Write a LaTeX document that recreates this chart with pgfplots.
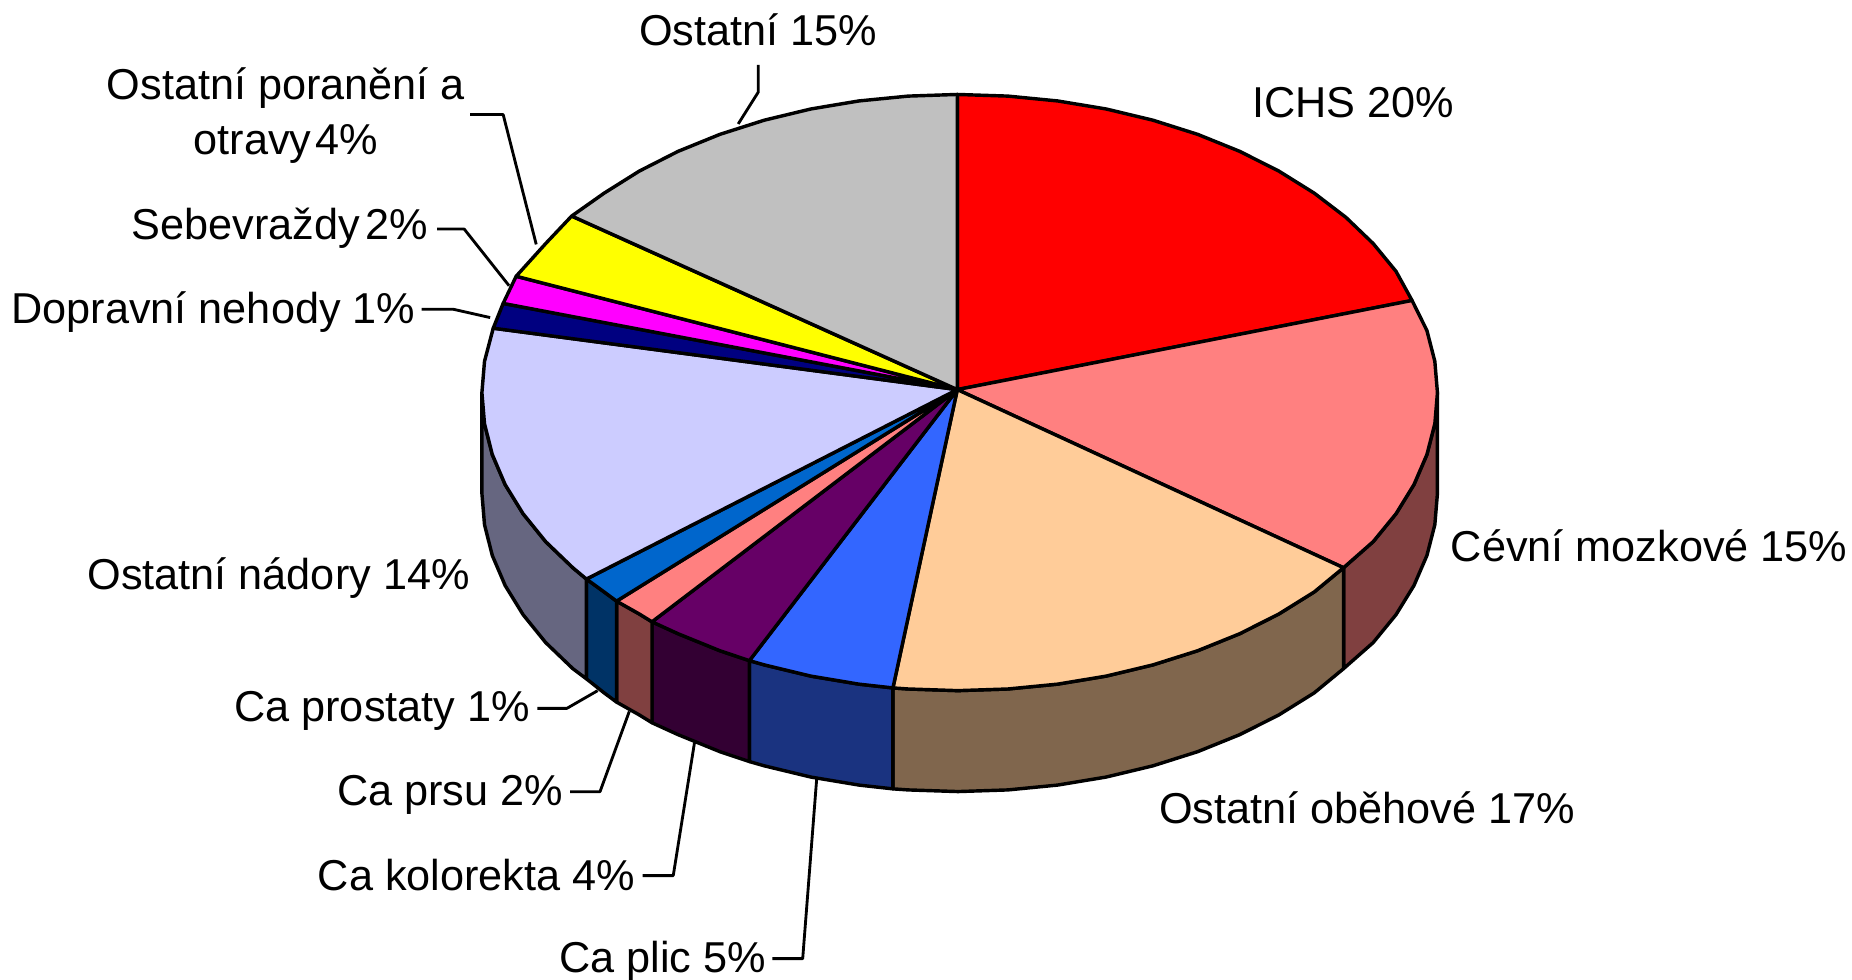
\documentclass[border=0pt]{standalone}
\usepackage{pgfplots}
\pgfplotsset{compat=1.18}
\usepackage{fontspec}
\setmainfont{Liberation Sans}
\definecolor{c1}{HTML}{FF0000}
\definecolor{c2}{HTML}{FF8080}
\definecolor{c3}{HTML}{FFCC99}
\definecolor{c4}{HTML}{3366FF}
\definecolor{c5}{HTML}{660066}
\definecolor{c6}{HTML}{FF8080}
\definecolor{c7}{HTML}{0066CC}
\definecolor{c8}{HTML}{CCCCFF}
\definecolor{c9}{HTML}{000080}
\definecolor{c10}{HTML}{FF00FF}
\definecolor{c11}{HTML}{FFFF00}
\definecolor{c12}{HTML}{C0C0C0}
\definecolor{w2}{HTML}{804040}
\definecolor{w3}{HTML}{80664D}
\definecolor{w4}{HTML}{1A3380}
\definecolor{w5}{HTML}{330033}
\definecolor{w6}{HTML}{804040}
\definecolor{w7}{HTML}{003366}
\definecolor{w8}{HTML}{666680}
\tikzset{lab/.style={font=\fontsize{18.3}{22}\selectfont, inner sep=0pt, text=black}}
\begin{document}
\begin{tikzpicture}
\path[use as bounding box] (0,0) rectangle (784pt,414.8pt);
\begin{axis}[
  at={(0,0)}, anchor=south west,
  hide axis, clip=false, scale only axis,
  width=784pt, height=414.8pt,
  xmin=0, xmax=1568, ymin=0, ymax=830, y dir=reverse,
  every axis plot/.append style={draw=black, line width=1.45pt, line join=round, mark=none},
]
% side walls
\addplot[fill=w2] coordinates {(1217,332.5)(1214.8,358.9)(1208.1,385)(1197.1,410.5)(1181.9,435.2)(1162.6,458.8)(1137.5,480.9)(1137.5,566.4)(1162.6,544.3)(1181.9,520.7)(1197.1,496)(1208.1,470.5)(1214.8,444.4)(1217,418)} -- cycle;
\addplot[fill=w3] coordinates {(1137.5,480.9)(1112.7,501.4)(1082.7,520.1)(1049.6,536.8)(1014,551.2)(976.1,563.2)(936.5,572.7)(895.4,579.5)(853.4,583.6)(811,585)(768.9,583.6)(756,582.7)(756,668.2)(768.9,669.1)(811,670.5)(853.4,669.1)(895.4,665)(936.5,658.2)(976.1,648.7)(1014,636.7)(1049.6,622.3)(1082.7,605.6)(1112.7,586.9)(1137.5,566.4)} -- cycle;
\addplot[fill=w4] coordinates {(756,582.7)(727.2,579.5)(686.5,572.7)(647.1,563.2)(634.5,559.6)(634.5,645.1)(647.1,648.7)(686.5,658.2)(727.2,665)(756,668.2)} -- cycle;
\addplot[fill=w5] coordinates {(634.5,559.6)(609.5,551.2)(574.1,536.8)(552,526.7)(552,612.2)(574.1,622.3)(609.5,636.7)(634.5,645.1)} -- cycle;
\addplot[fill=w6] coordinates {(552,526.7)(541.3,520.1)(522,509.2)(522,594.7)(541.3,605.6)(552,612.2)} -- cycle;
\addplot[fill=w7] coordinates {(522,509.2)(511.5,501.4)(496.5,490.5)(496.5,575)(511.5,586.9)(522,594.7)} -- cycle;
\addplot[fill=w8] coordinates {(496.5,490.5)(485,480.9)(462,458.8)(442.9,435.2)(427.7,410.5)(416.8,385)(410.2,358.9)(408,332.5)(408,418)(410.2,444.4)(416.8,470.5)(427.7,496)(442.9,520.7)(462,544.3)(485,566.4)(496.5,575)} -- cycle;
% top slices
\addplot[fill=c1] coordinates {(810.5,330)(810.5,80)(853.4,81.4)(895.4,85.5)(936.5,92.3)(976.1,101.8)(1014,113.8)(1049.6,128.2)(1082.7,144.9)(1112.7,163.6)(1139.5,184.1)(1162.6,206.3)(1181.9,229.8)(1195.5,254.5)} -- cycle;
\addplot[fill=c2] coordinates {(810.5,330)(1195.5,254.5)(1208.1,280)(1214.8,306.1)(1217,332.5)(1214.8,358.9)(1208.1,385)(1197.1,410.5)(1181.9,435.2)(1162.6,458.8)(1137.5,480.9)} -- cycle;
\addplot[fill=c3] coordinates {(810.5,330)(1137.5,480.9)(1112.7,501.4)(1082.7,520.1)(1049.6,536.8)(1014,551.2)(976.1,563.2)(936.5,572.7)(895.4,579.5)(853.4,583.6)(811,585)(768.9,583.6)(756,582.7)} -- cycle;
\addplot[fill=c4] coordinates {(810.5,330)(756,582.7)(727.2,579.5)(686.5,572.7)(647.1,563.2)(634.5,559.6)} -- cycle;
\addplot[fill=c5] coordinates {(810.5,330)(634.5,559.6)(609.5,551.2)(574.1,536.8)(552,526.7)} -- cycle;
\addplot[fill=c6] coordinates {(810.5,330)(552,526.7)(541.3,520.1)(522,509.2)} -- cycle;
\addplot[fill=c7] coordinates {(810.5,330)(522,509.2)(511.5,501.4)(496.5,490.5)} -- cycle;
\addplot[fill=c8] coordinates {(810.5,330)(496.5,490.5)(485,480.9)(462,458.8)(442.9,435.2)(427.7,410.5)(416.8,385)(410.2,358.9)(408,332.5)(410.2,306.1)(417.6,278)} -- cycle;
\addplot[fill=c9] coordinates {(810.5,330)(417.6,278)(426,257)} -- cycle;
\addplot[fill=c10] coordinates {(810.5,330)(426,257)(437,234)} -- cycle;
\addplot[fill=c11] coordinates {(810.5,330)(437,234)(462,206.3)(484,183)} -- cycle;
\addplot[fill=c12] coordinates {(810.5,330)(484,183)(511.5,163.6)(541.3,144.9)(574.1,128.2)(609.5,113.8)(647.1,101.8)(686.5,92.3)(727.2,85.5)(768.9,81.4)(810.5,80)} -- cycle;
% leader lines
\addplot[line width=1.2pt] coordinates {(642,55)(642,78)(625,105)};
\addplot[line width=1.2pt] coordinates {(398,97)(426,97)(454,207)};
\addplot[line width=1.2pt] coordinates {(370,194)(393,194)(431,242)};
\addplot[line width=1.2pt] coordinates {(357,262)(384,262)(415,269)};
\addplot[line width=1.2pt] coordinates {(455,600)(480,600)(506,585)};
\addplot[line width=1.2pt] coordinates {(482.6,670.6)(508,670.6)(532.8,602.6)};
\addplot[line width=1.2pt] coordinates {(544,741.7)(570,741.7)(588,629)};
\addplot[line width=1.2pt] coordinates {(654,812)(679.6,812)(691.5,659)};
% labels
\node[lab] at (axis cs:642,25) {Ostatní 15\%};
\node[lab] at (axis cs:242,75) {Ostatní poranění a};
\node[lab] at (axis cs:242,122) {otravy\kern-3.5pt{} 4\%};
\node[lab] at (axis cs:1145.5,87) {ICHS 20\%};
\node[lab,anchor=east] at (axis cs:362.5,193) {Sebevraždy\kern-3pt{} 2\%};
\node[lab,anchor=east] at (axis cs:352,264) {Dopravní nehody 1\%};
\node[lab,anchor=east] at (axis cs:398,490) {Ostatní nádory 14\%};
\node[lab,anchor=east] at (axis cs:449,602) {Ca prostaty 1\%};
\node[lab,anchor=east] at (axis cs:477,673) {Ca prsu 2\%};
\node[lab,anchor=east] at (axis cs:538,741) {Ca kolorekta 4\%};
\node[lab,anchor=east] at (axis cs:649,814) {Ca plic 5\%};
\node[lab,anchor=west] at (axis cs:981,684) {Ostatní oběhové 17\%};
\node[lab,anchor=west] at (axis cs:1228,462) {Cévní mozkové 15\%};
\end{axis}
\end{tikzpicture}
\end{document}
